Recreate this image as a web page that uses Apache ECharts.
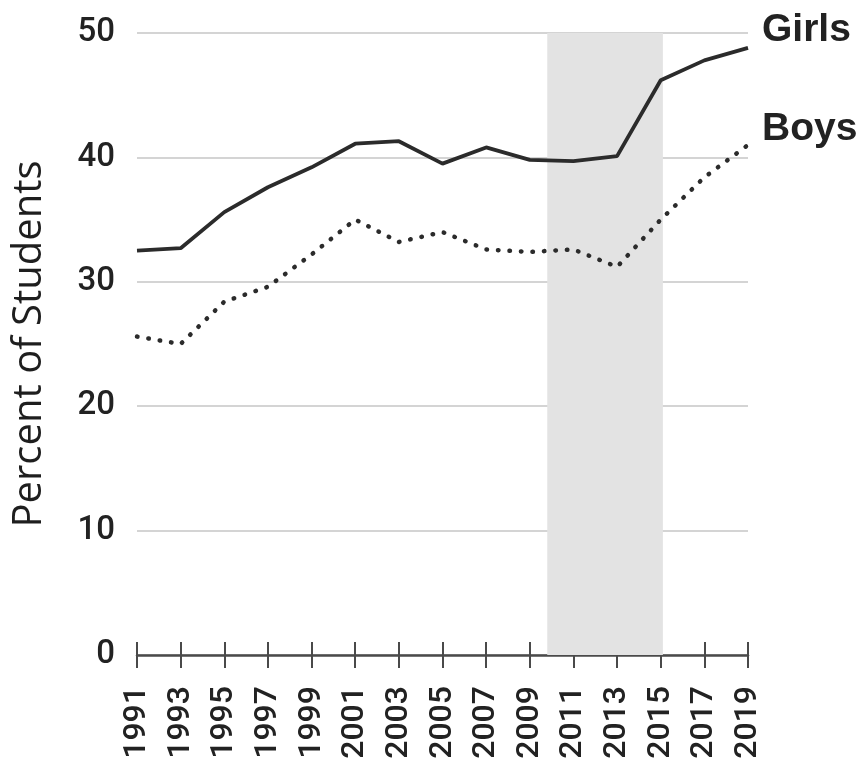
<!DOCTYPE html>
<html>
<head>
<meta charset="utf-8">
<script src="https://cdn.jsdelivr.net/npm/echarts@6/dist/echarts.min.js"></script>
<style>
  html, body { margin: 0; padding: 0; background: #fff; }
  #chart { width: 867px; height: 773px; }
</style>
</head>
<body>
<div id="chart"></div>
<script>
// survey years (every two years)
const years = [1991, 1993, 1995, 1997, 1999, 2001, 2003, 2005, 2007, 2009, 2011, 2013, 2015, 2017, 2019];
const girls = [32.5, 32.7, 35.6, 37.6, 39.2, 41.1, 41.3, 39.5, 40.8, 39.8, 39.7, 40.1, 46.2, 47.8, 48.8];
const boys = [25.6, 25.0, 28.4, 29.6, 32.2, 35.0, 33.2, 34.0, 32.6, 32.4, 32.6, 31.2, 35.0, 38.4, 41.0];
const shadedYears = [2009.8, 2015.1];

// x axis runs on years since the first survey, so ticks land on odd years
const baseYear = years[0];
const toPoints = vals => vals.map((v, i) => [years[i] - baseYear, v]);

const chart = echarts.init(document.getElementById('chart'));

const tickStyle = { color: '#4a4a4a', width: 2 };

const option = {
    animation: false,
    grid: { left: 137, right: 119, top: 33, bottom: 118, containLabel: false },
    xAxis: [
        {
            type: 'value',
            min: 0,
            max: years[years.length - 1] - baseYear,
            interval: 2,
            axisLine: { show: true, lineStyle: { color: '#4a4a4a', width: 2.5 } },
            axisTick: { show: true, length: 13, lineStyle: tickStyle },
            splitLine: { show: false },
            axisLabel: {
                rotate: 90,
                margin: 31,
                fontFamily: 'Roboto',
                fontWeight: 500,
                fontSize: 32,
                color: '#222',
                formatter: v => String(baseYear + v)
            }
        },
        {
            // second copy only to draw the upper half of the crossing ticks
            type: 'value',
            position: 'bottom',
            min: 0,
            max: years[years.length - 1] - baseYear,
            interval: 2,
            axisLine: { show: false },
            axisTick: { show: true, inside: true, length: 13, lineStyle: tickStyle },
            axisLabel: { show: false },
            splitLine: { show: false }
        }
    ],
    yAxis: {
        type: 'value',
        min: 0,
        max: 50,
        interval: 10,
        name: 'Percent of Students',
        nameLocation: 'middle',
        nameGap: 87,
        nameTextStyle: { fontFamily: 'Open Sans', fontSize: 40, color: '#1e1e1e' },
        axisLine: { show: false },
        axisTick: { show: false },
        axisLabel: {
            margin: 22,
            fontFamily: 'Roboto',
            fontWeight: 500,
            fontSize: 33,
            color: '#222'
        },
        splitLine: { lineStyle: { color: '#d4d4d4', width: 2 } }
    },
    series: [
        {
            name: 'Girls',
            type: 'line',
            data: toPoints(girls),
            symbol: 'none',
            lineStyle: { color: '#2b2b2b', width: 3.8 },
            z: 3,
            endLabel: {
                show: true,
                formatter: 'Girls',
                distance: 14,
                offset: [0, -18],
                fontFamily: 'Liberation Sans',
                fontWeight: 'bold',
                fontSize: 39,
                color: '#222'
            },
            markArea: {
                silent: true,
                itemStyle: { color: '#e3e3e3' },
                data: [[{ xAxis: shadedYears[0] - baseYear }, { xAxis: shadedYears[1] - baseYear }]]
            }
        },
        {
            name: 'Boys',
            type: 'line',
            data: toPoints(boys),
            symbol: 'none',
            lineStyle: { color: '#2b2b2b', width: 4.5, type: [0.5, 11], cap: 'round' },
            z: 3,
            endLabel: {
                show: true,
                formatter: 'Boys',
                distance: 14,
                offset: [0, -16],
                fontFamily: 'Liberation Sans',
                fontWeight: 'bold',
                fontSize: 39,
                color: '#222'
            }
        }
    ]
};

chart.setOption(option);

window.addEventListener('resize', function () {
    chart.resize();
});
</script>
</body>
</html>
